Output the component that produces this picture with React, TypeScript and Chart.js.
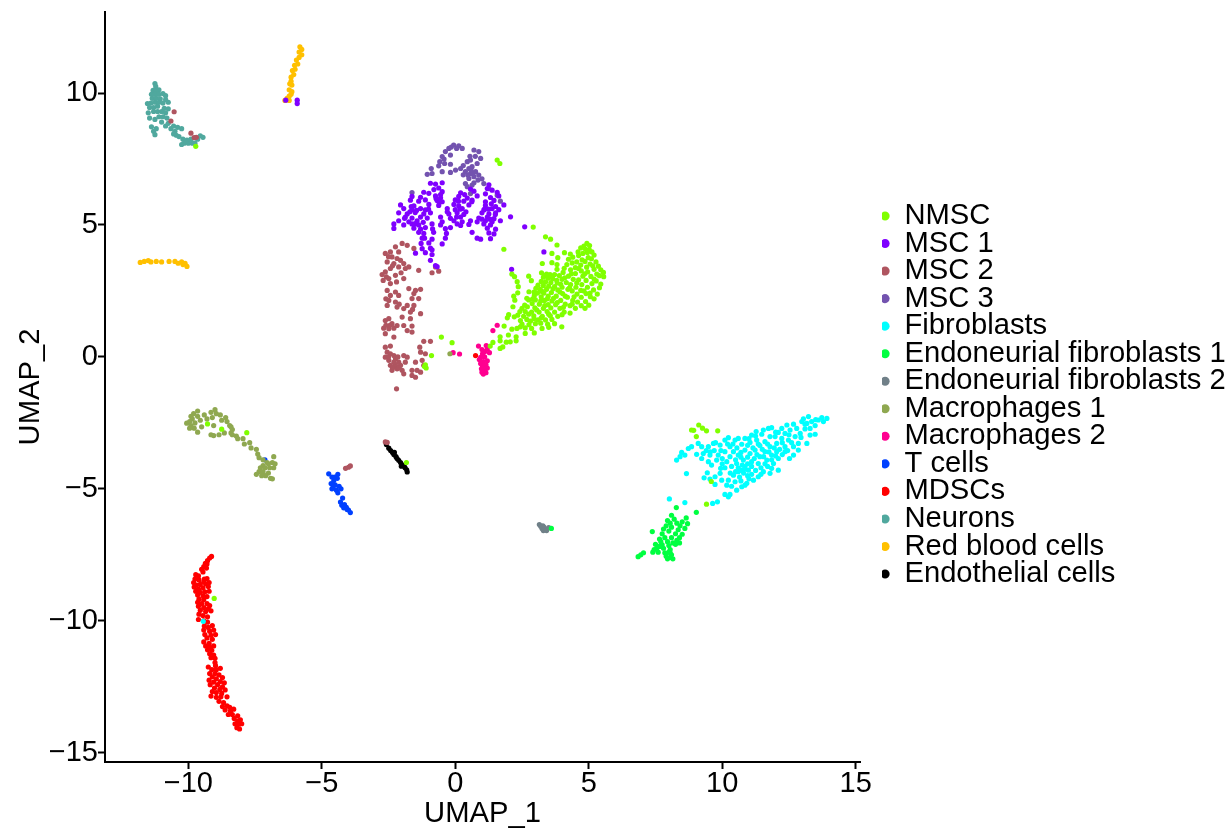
import React, { useEffect, useRef } from "react";
import { Chart, registerables } from "chart.js";

Chart.register(...registerables);

type P = number[];

const labels = ["NMSC","MSC 1","MSC 2","MSC 3","Fibroblasts","Endoneurial fibroblasts 1","Endoneurial fibroblasts 2","Macrophages 1","Macrophages 2","T cells","MDSCs","Neurons","Red blood cells","Endothelial cells"];
const colors = ["#80FF00","#7F00FF","#AF5560","#7353AF","#00FFFF","#00FF40","#708088","#8FA850","#FF0090","#0040FF","#FF0000","#50A89E","#FFC000","#000000"];

const nmsc: P[] = [[1.57,7.46],[1.67,7.33],[-9.72,7.98],[-9.28,-2.54],[-8.75,-2.74],[-7.81,-2.87],[-1.83,-4.0],[-9.03,-9.15],[8.85,-2.77],[8.93,-2.78],[9.12,-2.58],[9.26,-2.7],[9.41,-2.8],[9.83,-2.8],[9.03,-3.02],[9.41,-5.58],[9.59,-4.72],[-0.52,0.75],[-0.12,0.54],[-0.89,0.05],[-1.15,-0.36],[-1.09,-0.42],[-1.12,-0.3],[1.82,4.08],[2.92,4.92],[3.38,4.55],[3.57,4.46],[3.81,4.24],[3.62,3.92],[4.09,3.95],[4.31,3.9],[3.84,3.76],[3.26,3.54],[3.62,3.57],[3.81,3.5],[3.81,3.32],[2.12,3.14],[2.22,3.04],[2.32,2.85],[2.36,2.66],[2.34,2.43],[2.19,2.3],[2.23,2.15],[2.16,1.9],[2.0,1.6],[1.95,1.48],[2.21,1.52],[2.75,3.06],[2.85,2.89],[3.23,3.19],[2.76,2.47],[2.68,2.22],[2.6,1.96],[2.5,1.84],[1.83,1.17],[2.12,1.05],[1.68,0.76],[1.68,0.61],[1.41,0.55],[1.31,0.41],[1.99,0.83],[2.28,0.76],[2.28,0.61],[2.06,0.57],[1.91,0.56],[1.78,0.38],[1.68,0.32],[2.31,1.08],[2.44,1.14],[2.62,0.89],[2.96,0.91],[3.25,1.08],[3.5,1.12],[3.99,1.14],
[4.93,4.3],[4.82,4.2],[5.03,4.22],[4.7,4.13],[4.88,4.08],[5.02,4.06],[4.6,3.98],[4.95,3.96],[5.12,3.98],[4.78,3.92],[5.2,3.86],[4.62,3.84],[4.4,3.78],[4.98,3.76],[5.1,3.72],[4.24,3.7],[4.75,3.68],[4.86,3.62],[5.27,3.6],[4.55,3.6],[4.38,3.56],[5.05,3.52],[4.18,3.5],[4.7,3.48],[5.36,3.44],[4.92,3.4],[4.5,3.38],[4.08,3.36],[4.32,3.3],[5.2,3.32],[5.45,3.3],[4.72,3.26],[4.96,3.22],[4.04,3.2],[4.5,3.16],[5.55,3.2],[5.3,3.14],[3.42,3.14],[3.55,3.12],[3.72,3.12],[3.9,3.08],[4.24,3.06],[4.78,3.06],[5.08,3.05],[5.56,3.04],[3.3,3.02],[3.48,2.98],[3.65,2.96],[4.0,2.94],[4.42,2.94],[4.62,2.92],[4.9,2.9],[5.28,2.88],[3.22,2.86],[3.38,2.84],[3.58,2.82],[3.82,2.8],[4.16,2.82],[5.12,2.78],[5.45,2.76],[4.32,2.74],[4.74,2.74],[3.1,2.72],[3.3,2.7],[3.5,2.68],[3.72,2.66],[4.0,2.64],[4.52,2.64],[4.95,2.64],[5.4,2.62],[3.18,2.56],[3.42,2.56],[3.84,2.54],[4.22,2.56],[4.38,2.5],[4.7,2.52],[5.18,2.54],[2.95,2.46],[3.08,2.42],[3.32,2.42],[3.6,2.44],[4.02,2.4],[4.56,2.38],[4.9,2.4],[5.32,2.38],[2.96,2.32],[3.22,2.28],[3.48,2.3],[3.78,2.3],[4.2,2.26],[4.72,2.26],[5.06,2.28],[5.2,2.2],[2.75,2.16],[3.0,2.16],[3.34,2.14],[3.62,2.12],[3.95,2.14],[4.4,2.14],[4.58,2.08],[4.88,2.1],[2.88,2.02],[3.15,2.0],[3.48,1.98],[3.76,1.98],[4.12,2.0],[4.3,1.94],[4.72,1.94],[5.0,1.96],[2.7,1.9],[2.98,1.86],[3.3,1.84],[3.58,1.86],[3.92,1.84],[4.5,1.84],[4.86,1.84],[2.42,1.72],[2.62,1.72],[2.86,1.7],[3.14,1.7],[3.44,1.72],[3.72,1.7],[4.08,1.7],[4.3,1.66],[2.34,1.58],[2.56,1.54],[2.94,1.56],[3.26,1.54],[3.56,1.56],[3.84,1.54],[4.0,1.6],[2.68,1.42],[2.44,1.38],[2.82,1.36],[3.1,1.4],[3.38,1.4],[3.62,1.42],[2.5,1.24],[2.76,1.22],[3.0,1.26],[3.2,1.28],[3.46,1.24],[3.72,1.26],[2.62,1.1],[2.86,1.08],
[3.36,3.08],[3.62,3.05],[3.8,2.9],[4.1,3.0],[4.35,3.15],[4.62,3.35],[4.85,3.15],[5.15,3.45],[5.4,3.08],[5.2,2.95],[4.55,2.8],[4.28,2.62],[3.95,2.75],[3.66,2.58],[3.25,2.48],[3.02,2.6],[3.45,2.2],[3.92,2.46],[4.12,2.3],[4.45,2.28],[4.82,2.5],[5.05,2.42],[3.68,2.22],[3.2,2.12],[2.9,2.2],[3.82,2.06],[4.05,1.88],[4.38,2.0],[3.35,1.94],[3.05,1.78],[2.75,1.62],[3.5,1.62],[3.22,1.48],[2.95,1.45]];

const msc1: P[] = [[-5.92,9.73],[-5.92,9.6],[-6.35,9.73],[2.6,4.93],[3.32,3.98],[2.11,3.32],[2.07,5.31],
[-0.93,6.58],[-0.74,6.55],[-0.49,6.6],[1.26,6.52],[-0.62,6.4],[-0.8,6.34],[0.57,6.36],[1.2,6.38],[1.38,6.32],[-1.18,6.24],[-0.99,6.2],[-0.49,6.26],[0.2,6.22],[0.7,6.28],[1.13,6.18],[1.57,6.24],[-1.62,6.08],[-1.3,6.05],[-0.74,6.1],[-0.55,6.03],[0.13,6.08],[0.45,6.02],[0.82,6.1],[1.32,6.04],[1.63,6.1],[-1.68,5.94],[-1.37,5.9],[-1.12,5.95],[-0.68,5.93],[-0.49,5.88],[0,5.95],[0.32,5.9],[0.63,5.94],[1.13,5.88],[1.45,5.93],[-2.05,5.76],[-1.55,5.72],[-0.99,5.78],[-0.62,5.74],[-0.05,5.78],[0.13,5.72],[0.51,5.76],[1.13,5.74],[1.51,5.7],[1.82,5.76],[-1.93,5.62],[-1.62,5.58],[-1.3,5.62],[-1.12,5.57],[-0.3,5.62],[0,5.58],[0.26,5.62],[1.07,5.57],[1.38,5.62],[1.63,5.58],[-2.12,5.46],[-1.8,5.42],[-1.5,5.47],[-1.18,5.42],[-0.93,5.46],[-0.24,5.42],[0.07,5.46],[0.32,5.4],[1.0,5.46],[1.26,5.42],[1.51,5.46],[-1.87,5.3],[-1.62,5.26],[-1.3,5.3],[-1.05,5.26],[-0.55,5.3],[-0.18,5.25],[0.2,5.3],[0.88,5.26],[1.2,5.3],[1.45,5.24],[-2.12,5.16],[-1.74,5.12],[-1.43,5.16],[-0.49,5.12],[-0.05,5.16],[0.26,5.12],[0.57,5.16],[0.82,5.12],[1.13,5.16],[1.38,5.12],[1.69,5.16],[-2.3,5.04],[-1.93,5.0],[-1.62,5.04],[-1.37,5.0],[-0.87,5.04],[-0.55,5.0],[0.07,5.04],[0.2,4.98],[0.51,5.02],[1.07,5.04],[1.32,5.0],[-2.3,4.87],[-1.55,4.88],[-1.3,4.84],[-1.12,4.9],[-0.37,4.86],[-0.18,4.9],[1.2,4.88],[1.51,4.84],[-1.37,4.72],[-1.18,4.68],[-0.81,4.72],[-0.33,4.68],[0.63,4.72],[1.26,4.7],[1.45,4.66],[-1.24,4.5],[-0.87,4.46],[-0.37,4.5],[0.82,4.5],[0.95,4.46],[1.32,4.48],[-1.28,4.3],[-0.99,4.32],[-0.49,4.28],[-0.93,4.12],[-1.24,4.1],[-0.87,4.06],[-1.49,3.93],[-1.12,3.95],[-0.87,3.88],[-0.93,3.66],[-0.74,3.46],[-0.68,3.42],
[-1.7,5.5],[-1.45,5.55],[-1.0,5.6],[-0.72,6.0],[-0.6,5.85],[0.18,5.6],[0.05,5.3],[0.4,5.5],[0.62,5.88],[1.25,5.6],[1.3,5.22],[1.0,5.22],[1.35,5.8],[-1.5,5.05],[-1.2,5.1],[-0.3,5.5],[-1.65,5.7],[1.1,5.6],[0.12,5.9],[-0.55,6.15],[0.35,6.15],[-1.9,5.25],[1.5,5.4],[-0.85,4.85],[-1.15,4.5]];

const msc2: P[] = [[-10.53,9.29],[-10.65,8.94],[-9.9,8.48],[-9.78,8.31],[-9.7,8.32],[-4.11,-4.22],[-4.0,-4.18],[-3.93,-4.13],[-2.62,-3.22],[-2.55,-3.24],[-2.2,-1.21],
[-1.99,4.3],[-1.8,4.23],[-1.55,4.11],[-2.24,4.17],[-2.43,3.98],[-2.62,3.92],[-2.12,3.98],[-2.37,3.79],[-2.18,3.73],[-2.05,3.66],[-1.93,3.54],[-2.55,3.6],[-2.3,3.54],[-2.12,3.41],[-1.87,3.35],[-1.74,3.41],[-2.43,3.35],[-2.62,3.22],[-2.74,3.12],[-2.58,3.03],[-2.7,2.9],[-2.49,2.97],[-2.24,3.09],[-2.03,3.19],[-1.93,2.97],[-2.2,2.84],[-2.43,2.78],[-1.37,3.28],[-0.87,3.19],[-0.74,3.41],[-0.62,3.25],[-2.55,2.52],[-2.24,2.46],[-2.43,2.33],[-2.12,2.33],[-1.74,2.59],[-1.49,2.52],[-1.3,2.56],[-1.55,2.4],[-1.62,2.21],[-1.37,2.21],[-2.49,2.14],[-2.24,2.08],[-2.55,1.95],[-2.18,1.89],[-1.8,1.95],[-1.55,1.95],[-1.93,1.83],[-1.68,1.7],[-1.3,1.64],[-1.99,1.51],[-1.68,1.45],[-2.62,1.38],[-2.49,1.45],[-2.37,1.26],[-2.68,1.09],[-2.49,1.07],[-2.3,1.09],[-2.18,1.19],[-1.93,1.19],[-1.62,1.17],[-1.8,1.0],[-1.62,0.94],[-2.62,0.88],[-2.3,0.75],[-0.93,0.59],[-1.18,0.59],[-1.33,0.37],[-2.62,0.37],[-2.43,0.41],[-2.55,0.18],[-2.43,0.12],[-2.3,0.05],[-2.62,-0.01],[-2.49,-0.13],[-2.24,-0.07],[-2.12,-0.2],[-1.93,0.05],[-1.8,-0.01],[-1.3,0.18],[-1.12,0.12],[-2.43,-0.32],[-2.24,-0.32],[-2.05,-0.32],[-1.87,-0.2],[-1.49,-0.2],[-1.24,-0.13],[-2.37,-0.51],[-2.18,-0.45],[-1.99,-0.51],[-1.93,-0.64],[-1.62,-0.51],[-1.43,-0.51],[-1.62,-0.7],[-1.49,-0.77],[-1.18,-0.32],[-1.3,-0.58],[-2.3,-0.2],[-2.1,-0.42],[-2.5,0.0],[-2.35,-0.42],[-2.15,0.0],[-2.45,1.2],[-2.6,1.2],[-2.5,3.8],[-2.35,3.45],[-2.6,2.2],[-2.1,2.0],[-1.6,1.8]];

const msc3: P[] = [[-0.06,8.03],[0.13,8.0],[-0.24,7.9],[-0.37,7.78],[0.26,7.9],[-0.49,7.59],[-0.58,7.4],[-0.18,7.65],[0.7,7.84],[0.88,7.78],[0.57,7.46],[0.95,7.52],[0.45,7.4],[0.82,7.33],[-0.62,7.24],[-1.05,6.92],[-0.9,7.14],[-0.4,7.33],[-0.18,7.3],[-0.87,6.95],[-0.49,7.02],[-0.18,6.99],[0.01,7.08],[0.2,7.14],[0.51,7.14],[0.63,7.21],[0.38,7.02],[0.57,6.95],[0.76,7.02],[0.7,6.83],[0.51,6.76],[0.88,6.89],[1.07,6.57],[0.38,6.57],[0.63,6.51],[1.26,6.38],[0.57,6.19],[0.45,6.45],[1.57,6.13],[1.69,5.9],[-1.62,6.23],[0.6,7.05],[0.48,6.88],[0.66,6.95],[0.3,7.25],[0.05,7.9],[-0.15,7.95],[0.55,7.6],[0.75,7.6],[-0.42,7.5],[0.3,6.9],[0.85,6.7],[1.0,6.75],[0.7,6.6]];

const fibro: P[] = [[8.6,-5.52],[8.02,-5.38],[8.66,-4.42],[-9.44,-10.02],
[13.92,-2.33],[13.73,-2.3],[13.6,-2.39],[13.79,-2.45],[13.23,-2.26],[13.04,-2.35],[13.35,-2.45],[13.17,-2.52],[12.98,-2.45],[13.48,-2.6],[13.29,-2.71],[13.1,-2.73],[13.48,-2.93],[12.67,-2.55],[12.42,-2.58],[12.23,-2.71],[12.79,-2.71],[12.54,-2.77],[12.1,-2.86],[12.35,-2.9],[12.92,-2.9],[12.73,-3.02],[13.29,-2.96],[12.48,-3.15],[12.23,-3.09],[13.17,-3.28],[12.85,-3.28],[12.67,-3.4],[12.35,-3.4],[12.85,-3.53],[12.35,-3.59],[12.67,-3.72],[12.52,-3.85],[11.85,-2.68],[11.73,-2.71],[11.54,-2.77],[11.27,-2.83],[11.1,-2.96],[11.48,-2.93],[11.79,-3.02],[11.98,-3.02],[11.29,-3.15],[11.6,-3.21],[12.04,-3.28],[11.04,-3.24],[11.41,-3.36],[11.79,-3.4],[10.85,-3.09],[10.6,-3.09],[10.48,-3.15],[10.73,-3.31],[11.23,-3.53],[11.6,-3.59],[12.04,-3.59],[11.85,-3.72],[10.85,-3.53],[11.04,-3.66],[11.41,-3.78],[12.1,-3.85],[11.67,-3.91],[11.92,-4.04],[11.35,-4.04],[11.1,-3.97],[10.79,-3.91],[10.54,-4.04],[10.85,-4.16],[10.67,-4.29],[10.98,-4.29],[11.85,-4.22],[12.1,-4.29],[11.54,-4.35],[11.79,-4.41],[11.35,-4.54],[11.17,-4.67],[10.92,-4.79],[10.73,-4.92],[10.54,-5.05],[10.85,-4.86],[10.42,-4.48],[10.23,-4.67],[10.48,-4.73],[10.17,-4.86],[10.35,-4.9],[10.1,-5.21],[10.23,-5.3],[10.29,-5.21],[9.82,-5.49],[9.64,-5.55],[9.73,-4.83],[9.54,-4.63],[9.32,-4.58],[9.44,-4.39],[9.73,-4.54],[9.92,-4.41],[9.98,-4.67],[9.6,-4.1],[9.94,-4.22],[9.79,-3.91],[10.17,-3.97],[10.29,-3.78],[9.48,-3.97],[9.23,-3.85],[9.04,-3.69],[9.29,-3.66],[9.54,-3.72],[9.85,-3.72],[10.1,-3.59],[10.42,-3.59],[10.6,-3.72],[9.1,-3.28],[9.23,-3.4],[9.48,-3.4],[9.67,-3.28],[9.92,-3.34],[10.1,-3.15],[10.23,-3.06],[10.29,-3.4],[8.85,-3.4],[8.73,-3.47],[8.48,-3.62],[8.6,-3.72],[8.42,-3.78],[8.29,-3.91],
[10.4,-3.3],[10.55,-3.45],[10.7,-3.62],[10.95,-3.35],[11.15,-3.45],[11.3,-3.7],[11.5,-3.5],[11.7,-3.3],[11.95,-3.45],[12.15,-3.5],[11.75,-3.6],[11.55,-3.78],[11.2,-3.85],[10.95,-3.8],[10.7,-3.8],[10.5,-3.9],[10.35,-4.15],[10.6,-4.2],[10.75,-4.1],[10.95,-4.05],[11.1,-4.15],[11.25,-4.3],[11.45,-4.2],[11.7,-4.15],[11.6,-4.05],[11.85,-3.9],[12.0,-3.75],[12.25,-3.7],[10.8,-4.4],[10.95,-4.5],[11.1,-4.45],[10.65,-4.55],[10.7,-4.7],[10.5,-4.35],[10.3,-4.4],[10.1,-4.2],[10.0,-4.05],[10.0,-3.85],[9.7,-3.55],[9.4,-3.55],[9.95,-3.55],[10.2,-3.3],[11.0,-3.1],[11.25,-3.0],[11.35,-3.3],[12.0,-2.85],[12.5,-2.95],[12.6,-3.25],[12.95,-3.05],[13.1,-2.55],[13.5,-2.38],[11.45,-4.45],[12.25,-3.25],[12.45,-3.55],[11.0,-4.62],[9.75,-3.25],[9.55,-3.6],[10.75,-4.3],[10.85,-4.25],[10.6,-4.35]];

const endo1: P[] = [[3.6,-6.5],[9.03,-5.89],[8.28,-5.71],[6.85,-7.57],[6.95,-7.5],[7.05,-7.42],[7.38,-6.62],[8.1,-6.0],[8.2,-6.15],[7.95,-6.2],[8.05,-6.3],[8.3,-6.3],[8.5,-6.25],[8.65,-6.1],[8.7,-6.32],[8.42,-6.4],[7.9,-6.4],[7.8,-6.52],[8.1,-6.45],[8.35,-6.55],[8.6,-6.5],[8.0,-6.6],[7.75,-6.7],[8.25,-6.7],[8.5,-6.72],[8.4,-6.85],[7.85,-6.85],[7.65,-6.9],[8.1,-6.85],[8.3,-6.95],[7.7,-7.0],[7.95,-7.0],[8.15,-7.05],[8.4,-7.05],[7.5,-7.1],[7.75,-7.12],[8.0,-7.15],[8.25,-7.1],[7.55,-7.25],[7.8,-7.25],[7.45,-7.3],[8.05,-7.3],[7.4,-7.4],[7.6,-7.4],[7.85,-7.42],[8.0,-7.4],[8.1,-7.5],[7.9,-7.55],[8.05,-7.6],[7.95,-7.65],[8.15,-7.65],[8.05,-7.42],[7.65,-7.18]];

const endo2: P[] = [[3.15,-6.35],[3.2,-6.42],[3.25,-6.5],[3.28,-6.4],[3.3,-6.58],[3.38,-6.52],[3.32,-6.45],[3.42,-6.58],[3.5,-6.47]];

const mac1: P[] = [[-0.2,0.12],
[-10.06,-2.51],[-9.9,-2.25],[-9.85,-2.35],[-9.95,-2.45],[-9.9,-2.6],[-9.78,-2.7],[-9.95,-2.7],[-9.65,-2.85],[-9.55,-2.4],[-9.65,-2.25],[-9.65,-2.05],[-9.75,-2.5],[-9.8,-2.15],[-9.4,-2.2],[-9.5,-2.65],[-9.3,-2.35],[-9.15,-2.1],[-9.0,-2.0],[-8.95,-2.15],[-8.8,-2.2],[-9.1,-2.3],[-8.75,-2.4],[-8.6,-2.3],[-8.55,-2.45],[-8.45,-2.6],[-8.4,-2.65],[-9.05,-2.6],[-9.15,-2.95],[-9.05,-2.98],[-8.85,-2.95],[-8.65,-2.88],[-8.4,-2.88],[-8.35,-2.75],[-8.35,-2.95],[-8.2,-3.0],[-8.15,-3.1],[-7.95,-3.1],[-7.9,-3.3],[-7.7,-3.25],[-7.65,-3.45],[-7.45,-3.5],[-7.4,-3.68],[-7.35,-3.82],[-7.2,-3.9],[-7.05,-4.0],[-6.8,-3.78],[-6.85,-4.0],[-6.8,-4.2],[-6.75,-4.05],[-6.95,-4.2],[-7.0,-4.4],[-7.2,-4.12],[-7.3,-4.2],[-7.35,-4.35],[-7.2,-4.35],[-7.1,-4.5],[-7.45,-4.45],[-7.0,-4.05],[-6.92,-4.6],[-6.85,-4.62],[-7.12,-4.2],[-7.25,-4.5]];

const mac2: P[] = [[-0.08,0.16],[0.16,0.11],[1.57,1.2],[1.41,1.0],
[0.87,0.41],[1.16,0.43],[1.2,0.3],[1.1,0.2],[1.02,0.12],[1.28,0.16],[0.95,-0.02],[1.1,0.0],[0.9,-0.1],[1.05,-0.18],[1.2,-0.15],[0.95,-0.25],[1.15,-0.3],[1.02,-0.35],[1.2,-0.42],[0.98,-0.45],[1.1,-0.48],[1.0,-0.58],[1.15,-0.6],[1.05,-0.65],[1.12,-0.52],[1.0,0.28]];

const tcells: P[] = [[-7.13,-3.9],[-4.74,-4.43],[-4.4,-4.45],[-4.42,-4.6],[-4.62,-4.55],[-4.55,-4.68],[-4.65,-4.8],[-4.5,-4.85],[-4.58,-4.95],[-4.35,-4.9],[-4.62,-5.0],[-4.45,-5.05],[-4.28,-5.0],[-4.4,-5.15],[-4.22,-5.35],[-4.3,-5.5],[-4.25,-5.62],[-4.15,-5.6],[-4.08,-5.7],[-4.18,-5.72],[-4.0,-5.8],[-3.93,-5.9],[-4.05,-5.78],[-4.52,-4.55]];

const mdsc: P[] = [[0.76,0.05],[-9.13,-7.56],[-9.2,-7.62],[-9.28,-7.72],[-9.36,-7.82],[-9.3,-7.85],[-9.42,-7.95],[-9.32,-8.0],[-9.5,-8.05],[-9.45,-8.15],[-9.72,-8.25],[-9.62,-8.3],[-9.75,-8.42],[-9.6,-8.45],[-9.4,-8.42],[-9.3,-8.4],[-9.42,-8.52],[-9.8,-8.55],[-9.7,-8.65],[-9.55,-8.62],[-9.35,-8.6],[-9.22,-8.55],[-9.78,-8.72],[-9.62,-8.8],[-9.45,-8.75],[-9.25,-8.7],[-9.72,-8.88],[-9.55,-8.92],[-9.38,-8.9],[-9.22,-8.88],[-9.65,-9.02],[-9.45,-9.05],[-9.3,-9.08],[-9.6,-9.18],[-9.42,-9.2],[-9.65,-9.3],[-9.5,-9.35],[-9.3,-9.35],[-9.2,-9.42],[-9.62,-9.45],[-9.42,-9.5],[-9.25,-9.55],[-9.55,-9.6],[-9.35,-9.65],[-9.6,-9.75],[-9.15,-9.62],[-9.45,-9.8],[-9.28,-9.85],[-9.62,-9.95],[-9.42,-10.0],[-9.28,-10.05],[-9.4,-10.2],[-9.25,-10.25],[-9.1,-10.18],[-9.42,-10.35],[-9.2,-10.4],[-9.05,-10.35],[-9.38,-10.52],[-9.15,-10.55],[-8.98,-10.52],[-9.3,-10.65],[-9.1,-10.7],[-9.42,-10.8],[-9.22,-10.85],[-9.35,-10.95],[-9.2,-11.0],[-9.05,-10.95],[-9.28,-11.1],[-9.12,-11.12],[-9.2,-11.25],[-9.05,-11.3],[-9.15,-11.4],[-9.0,-11.42],[-9.0,-11.58],[-9.25,-11.75],[-8.98,-11.7],[-9.12,-11.85],[-8.95,-11.85],[-8.8,-11.8],[-9.2,-12.0],[-9.0,-12.0],[-8.85,-12.05],[-9.1,-12.12],[-8.72,-12.15],[-8.95,-12.2],[-9.22,-12.25],[-8.8,-12.3],[-9.05,-12.32],[-8.65,-12.35],[-9.18,-12.42],[-8.9,-12.42],[-8.72,-12.5],[-9.02,-12.55],[-8.82,-12.6],[-8.62,-12.62],[-9.1,-12.68],[-8.95,-12.72],[-8.75,-12.75],[-9.15,-12.85],[-8.95,-12.9],[-8.78,-12.88],[-8.55,-12.88],[-8.85,-13.05],[-8.68,-13.1],[-8.72,-13.25],[-8.55,-13.22],[-8.45,-13.28],[-8.62,-13.38],[-8.42,-13.42],[-8.3,-13.35],[-8.5,-13.55],[-8.35,-13.55],[-8.15,-13.6],[-8.28,-13.7],[-8.15,-13.8],[-8.05,-13.75],[-8.25,-13.9],[-8.1,-13.92],[-8.0,-13.9],[-8.18,-14.05],[-8.08,-14.1]];

const neurons: P[] = [[-11.25,10.36],[-11.22,10.25],[-11.32,10.1],[-11.2,10.08],[-11.1,10.12],[-11.38,9.95],[-11.25,9.95],[-11.1,9.95],[-10.95,9.98],[-10.85,9.9],[-11.35,9.8],[-11.2,9.8],[-11.05,9.78],[-10.85,9.75],[-11.53,9.6],[-11.4,9.62],[-11.25,9.65],[-11.1,9.65],[-10.95,9.62],[-10.75,9.65],[-11.45,9.45],[-11.3,9.45],[-11.15,9.5],[-10.9,9.42],[-10.75,9.4],[-11.5,9.25],[-11.3,9.3],[-11.15,9.3],[-11.0,9.3],[-10.85,9.25],[-11.45,9.05],[-11.25,9.0],[-11.1,9.1],[-10.95,9.1],[-10.8,9.05],[-11.38,8.72],[-11.3,8.55],[-11.2,8.65],[-11.0,8.9],[-10.55,8.75],[-10.75,8.85],[-10.65,8.65],[-10.5,8.55],[-10.4,8.7],[-10.25,8.65],[-11.25,8.42],[-10.45,8.4],[-10.35,8.35],[-10.2,8.25],[-10.15,8.1],[-10.0,8.1],[-9.85,8.1],[-10.25,8.05],[-9.9,8.25],[-10.05,8.22],[-9.75,8.1],[-9.65,8.25],[-9.55,8.38],[-9.45,8.32],[-10.85,8.75],[-10.55,8.45]];

const rbc: P[] = [[-5.82,11.75],[-5.75,11.65],[-5.85,11.55],[-5.75,11.45],[-5.85,11.35],[-5.95,11.25],[-5.9,11.1],[-6.02,11.05],[-6.0,10.9],[-6.1,10.85],[-6.05,10.7],[-6.15,10.6],[-6.15,10.45],[-6.2,10.35],[-6.12,10.3],[-6.22,10.12],[-6.12,10.05],[-6.15,9.95],[-6.22,9.88],[-6.3,9.8],[-6.38,9.72],[-6.22,9.72],
[-11.8,3.58],[-11.65,3.62],[-11.5,3.65],[-11.4,3.6],[-11.2,3.62],[-11.0,3.6],[-10.72,3.62],[-10.5,3.62],[-10.38,3.55],[-10.25,3.6],[-10.2,3.5],[-10.12,3.55],[-10.05,3.43]];

const endothelial: P[] = [[-2.49,-3.46],[-2.42,-3.55],[-2.35,-3.62],[-2.3,-3.7],[-2.22,-3.78],[-2.18,-3.85],[-2.12,-3.92],[-2.05,-4.0],[-2.0,-4.08],[-1.92,-4.12],[-1.88,-4.2],[-1.82,-4.28],[-1.8,-4.36],[-2.58,-3.32],[-2.28,-3.62],[-2.02,-4.14]];

const series: P[][] = [nmsc,msc1,msc2,msc3,fibro,endo1,endo2,mac1,mac2,tcells,mdsc,neurons,rbc,endothelial];
const xTickStep = 5;
const yTickStep = 5;
const xRange = [-13.12, 15.16];
const yRange = [-15.35, 13.07];

const FONT = '"Liberation Sans", Arial, sans-serif';
const tickFmt = (v: string | number) => String(v).replace("-", "\u2212");

export default function App() {
  const ref = useRef<HTMLCanvasElement>(null);
  useEffect(() => {
    document.body.style.margin = "0";
    const placeLegend = {
      id: "placeLegend",
      afterLayout(c: any) {
        const l = c.legend;
        if (!l) return;
        const dy = 395 - (l.top + l.bottom) / 2;
        l.left = 882;
        l.right = 1229;
        l.top += dy;
        l.bottom += dy;
      },
    };
    const chart = new Chart(ref.current as HTMLCanvasElement, {
      type: "scatter",
      data: {
        datasets: series.map((pts, i) => ({
          label: labels[i],
          data: pts.map(([x, y]) => ({ x, y })),
          backgroundColor: colors[i],
          borderColor: colors[i],
          borderWidth: 0,
          pointRadius: 2.6,
          pointStyle: "circle",
        })),
      },
      plugins: [placeLegend],
      options: {
        responsive: false,
        animation: false,
        devicePixelRatio: 1,
        layout: { padding: { left: 0, top: 12, right: 30, bottom: 0 } },
        plugins: {
          tooltip: { enabled: false },
          title: { display: false },
          legend: {
            display: true,
            position: "right",
            maxWidth: 340,
            onClick: () => {},
            labels: {
              usePointStyle: true,
              boxWidth: 9.5,
              boxHeight: 6.4,
              padding: -1.66,
              color: "#000",
              font: { family: FONT, size: 29.2 },
            },
          },
        },
        scales: {
          x: {
            type: "linear",
            min: xRange[0],
            max: xRange[1],
            afterFit: (s: any) => { s.height = 69; s.paddingLeft = 0; s.paddingRight = 0; },
            title: { display: true, text: "UMAP_1", color: "#000", font: { family: FONT, size: 29.2 }, padding: { top: -6, bottom: 0 } },
            border: { display: true, color: "#000", width: 2 },
            grid: { display: true, drawOnChartArea: false, drawTicks: true, tickLength: 7, tickColor: "#000", tickWidth: 2 },
            ticks: { stepSize: xTickStep, includeBounds: false, color: "#000", maxRotation: 0, padding: -2, font: { family: FONT, size: 29 }, callback: tickFmt },
          },
          y: {
            type: "linear",
            min: yRange[0],
            max: yRange[1],
            afterFit: (s: any) => { s.width = 105; s.paddingTop = 0; s.paddingBottom = 0; },
            title: { display: true, text: "UMAP_2", color: "#000", font: { family: FONT, size: 29.2 }, padding: { top: 13, bottom: 0 } },
            border: { display: true, color: "#000", width: 2 },
            grid: { display: true, drawOnChartArea: false, drawTicks: true, tickLength: 7, tickColor: "#000", tickWidth: 2 },
            ticks: { stepSize: yTickStep, includeBounds: false, color: "#000", padding: 0, font: { family: FONT, size: 29 }, callback: tickFmt },
          },
        },
      },
    } as any);
    return () => chart.destroy();
  }, []);
  return <canvas ref={ref} width={1230} height={831} style={{ display: "block" }} />;
}
